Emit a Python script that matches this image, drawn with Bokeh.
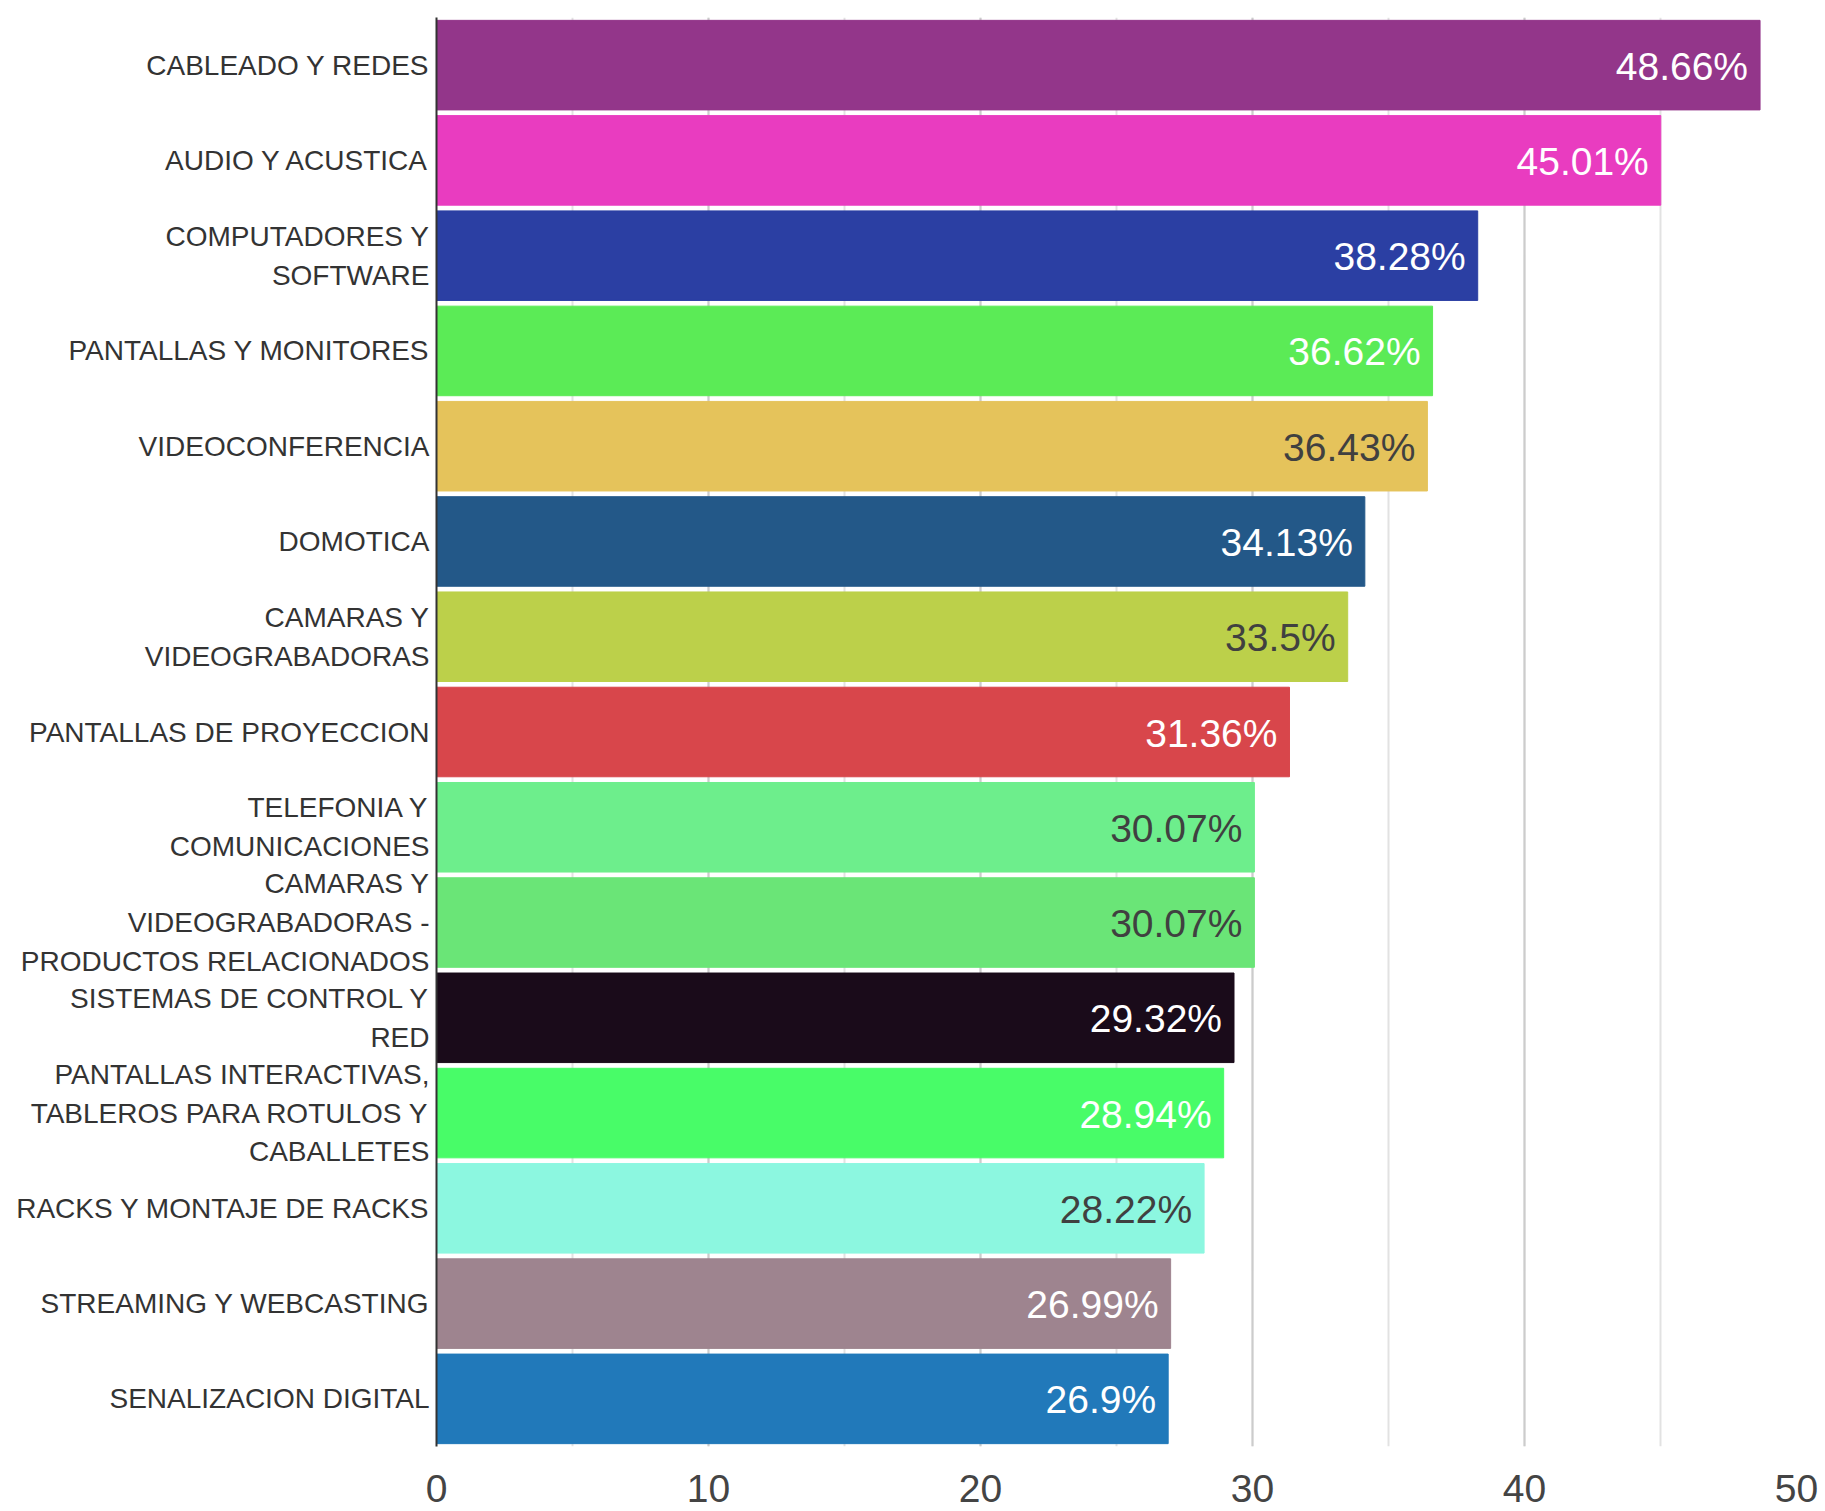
from bokeh.plotting import figure
from bokeh.models import ColumnDataSource, FactorRange, Range1d, SingleIntervalTicker
from bokeh.embed import file_html
from bokeh.resources import INLINE

categories = [
    "CABLEADO Y REDES",
    "AUDIO Y ACUSTICA",
    "COMPUTADORES Y\nSOFTWARE",
    "PANTALLAS Y MONITORES",
    "VIDEOCONFERENCIA",
    "DOMOTICA",
    "CAMARAS Y\nVIDEOGRABADORAS",
    "PANTALLAS DE PROYECCION",
    "TELEFONIA Y\nCOMUNICACIONES",
    "CAMARAS Y\nVIDEOGRABADORAS -\nPRODUCTOS RELACIONADOS",
    "SISTEMAS DE CONTROL Y\nRED",
    "PANTALLAS INTERACTIVAS,\nTABLEROS PARA ROTULOS Y\nCABALLETES",
    "RACKS Y MONTAJE DE RACKS",
    "STREAMING Y WEBCASTING",
    "SENALIZACION DIGITAL",
]
values = [48.66, 45.01, 38.28, 36.62, 36.43, 34.13, 33.5, 31.36, 30.07, 30.07,
          29.32, 28.94, 28.22, 26.99, 26.9]
bar_colors = ["#93368A", "#E93CC0", "#2B3FA3", "#5BEB56", "#E5C35B", "#235888",
              "#BCD04A", "#D8464B", "#6DEE8C", "#6AE577", "#1A0B1A", "#48FC68",
              "#8CF7E0", "#9E848F", "#2179BA"]
label_colors = ["#FFFFFF", "#FFFFFF", "#FFFFFF", "#FFFFFF", "#404040", "#FFFFFF",
                "#404040", "#FFFFFF", "#404040", "#404040", "#FFFFFF", "#FFFFFF",
                "#404040", "#FFFFFF", "#FFFFFF"]
labels = [f"{v:g}%" for v in values]

source = ColumnDataSource(dict(cat=categories, val=values, color=bar_colors,
                               lcolor=label_colors, label=labels))

p = figure(
    y_range=FactorRange(factors=list(reversed(categories))),
    x_range=Range1d(0, 50),
    width=1825, height=1511,
    min_border_left=436, min_border_right=29, min_border_top=17, min_border_bottom=65,
    output_backend="svg", toolbar_location=None,
)
p.outline_line_color = None
p.background_fill_color = "white"
p.border_fill_color = "white"

p.hbar(y="cat", right="val", left=0, height=0.94, color="color", source=source)
p.text(x="val", y="cat", text="label", text_color="lcolor", source=source,
       text_align="right", text_baseline="middle", x_offset=-12, y_offset=1,
       text_font_size="39px", text_font={"value": "Liberation Sans"})

p.xaxis.ticker = SingleIntervalTicker(interval=10, num_minor_ticks=2)
p.xaxis.axis_line_color = None
p.xaxis.major_tick_line_color = None
p.xaxis.minor_tick_line_color = None
p.xaxis.major_label_text_font = "Liberation Sans"
p.xaxis.major_label_text_font_size = "39px"
p.xaxis.major_label_text_color = "#444444"
p.xaxis.major_label_standoff = 22

p.yaxis.axis_line_color = "#333333"
p.yaxis.axis_line_width = 2
p.yaxis.major_tick_line_color = None
p.yaxis.minor_tick_line_color = None
p.yaxis.major_tick_out = 0
p.yaxis.major_tick_in = 0
p.yaxis.major_label_standoff = 7
p.yaxis.major_label_text_font = "Liberation Sans"
p.yaxis.major_label_text_font_size = "28px"
p.yaxis.major_label_text_color = "#333333"
p.yaxis.major_label_text_line_height = 1.25

p.ygrid.grid_line_color = None
p.xgrid.grid_line_color = "#cccccc"
p.xgrid.grid_line_width = 2
p.xgrid.minor_grid_line_color = "#e2e2e2"
p.xgrid.minor_grid_line_width = 2

open("out.html", "w").write(file_html(p, INLINE))
